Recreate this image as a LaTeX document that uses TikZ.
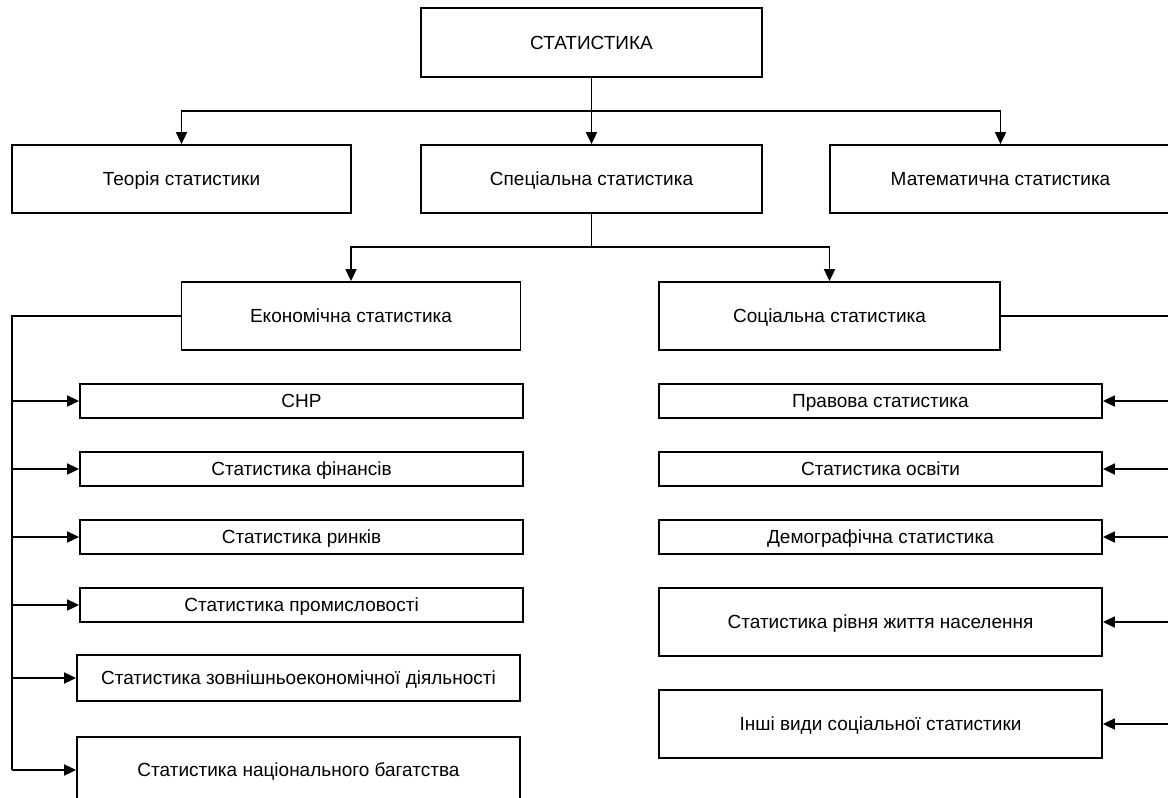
\documentclass[tikz,border=0pt]{standalone}
\usepackage{fontspec}
\setmainfont{Liberation Sans}
\usetikzlibrary{arrows.meta}
\tikzset{
  box/.style={draw, line width=1.8pt, rectangle, inner sep=0pt, align=center, text height=13.7pt, text depth=0pt, font=\fontsize{19}{23}\selectfont},
  conn/.style={line width=1.8pt},
  arr/.style={line width=1.8pt, -{Triangle[length=12pt,width=11pt]}}
}
\begin{document}
\begin{tikzpicture}[x=1pt,y=-1pt]
\path[use as bounding box, clip] (0,0) rectangle (1168,798);
\fill[white] (0,0) rectangle (1168,798);
% top levels
\node[box, minimum width=341pt, minimum height=69pt] (stat) at (591.5,42.5) {СТАТИСТИКА};
\node[box, minimum width=339pt, minimum height=68pt] (teor) at (181.5,179) {Теорія статистики};
\node[box, minimum width=341pt, minimum height=68pt] (spec) at (591.5,179) {Спеціальна статистика};
\node[box, minimum width=341pt, minimum height=68pt] (math) at (1000.5,179) {Математична статистика};
\node[box, minimum width=339pt, minimum height=68pt] (econ) at (351,316) {Економічна статистика};
\node[box, minimum width=341pt, minimum height=68pt] (soc) at (829.5,316) {Соціальна статистика};
% left column
\node[box, minimum width=443pt, minimum height=34pt] (l1) at (301.5,401) {СНР};
\node[box, minimum width=443pt, minimum height=34pt] (l2) at (301.5,469) {Статистика фінансів};
\node[box, minimum width=443pt, minimum height=34pt] (l3) at (301.5,537) {Статистика ринків};
\node[box, minimum width=443pt, minimum height=34pt] (l4) at (301.5,605) {Статистика промисловості};
\node[box, minimum width=443pt, minimum height=46pt] (l5) at (298.5,678) {Статистика зовнішньоекономічної діяльності};
\node[box, minimum width=443pt, minimum height=66pt] (l6) at (298.5,770) {Статистика національного багатства};
% right column
\node[box, minimum width=443pt, minimum height=34pt] (r1) at (880.5,401) {Правова статистика};
\node[box, minimum width=443pt, minimum height=34pt] (r2) at (880.5,469) {Статистика освіти};
\node[box, minimum width=443pt, minimum height=34pt] (r3) at (880.5,537) {Демографічна статистика};
\node[box, minimum width=443pt, minimum height=68pt] (r4) at (880.5,622) {Статистика рівня життя населення};
\node[box, minimum width=443pt, minimum height=68pt] (r5) at (880.5,724) {Інші види соціальної статистики};
% junctions
\coordinate (j1) at (591.5,111);
\coordinate (j2) at (591.5,247);
\coordinate (lb) at (12,316);
\coordinate (rb) at (1172,316);
% connectors
\draw[arr] (stat.south) -- (spec.north);
\draw[arr] (j1) -| (teor.north);
\draw[arr] (j1) -| (math.north);
\draw[conn] (spec.south) -- (j2);
\draw[arr] (j2) -| (econ.north);
\draw[arr] (j2) -| (soc.north);
\draw[conn] (econ.west) -- (lb) -- (lb |- l6.west);
\foreach \n in {l1,l2,l3,l4,l5,l6} \draw[arr] (lb |- \n.west) -- (\n.west);
\draw[conn] (soc.east) -- (rb) -- (rb |- r5.east);
\foreach \n in {r1,r2,r3,r4,r5} \draw[arr] (rb |- \n.east) -- (\n.east);
\end{tikzpicture}
\end{document}
